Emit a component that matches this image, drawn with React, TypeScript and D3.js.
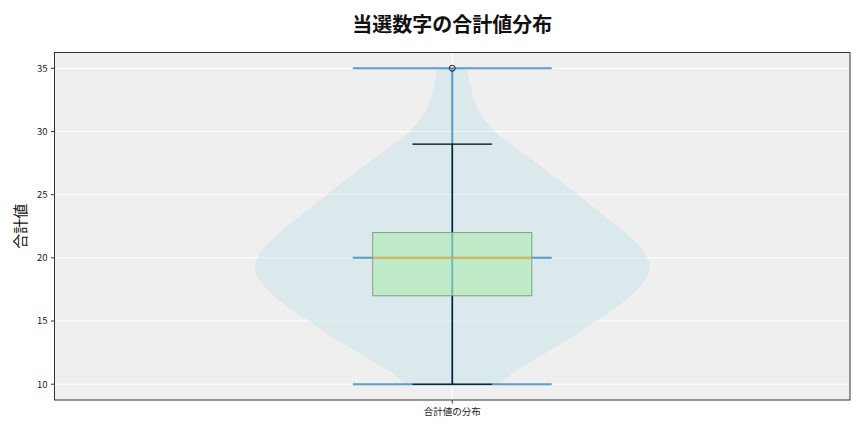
import React from "react";
import * as d3 from "d3";

const title = "当選数字の合計値分布";
const yLabel = "合計値";
const category = "合計値の分布";

// violin: relative density for each sum value
const densityValues = d3.range(10, 36);
const densities = [
    0.23, 0.31, 0.42, 0.53, 0.63, 0.72, 0.82, 0.9, 0.96, 1.0, 0.985, 0.94,
    0.87, 0.79, 0.71, 0.63, 0.55, 0.47, 0.38, 0.29, 0.21, 0.155, 0.12, 0.1,
    0.085, 0.075,
];
const extrema = [10, 20, 35]; // min, median, max lines of the violin

// boxplot stats
const whiskerLow = 10;
const q1 = 17;
const median = 20;
const q3 = 22;
const whiskerHigh = 29;
const outliers = [35];

const yTicks = [10, 15, 20, 25, 30, 35];

const width = 864;
const height = 432;
const margin = { top: 52.5, right: 14, bottom: 32, left: 54.5 };

export default function App() {
    const x = d3
        .scaleLinear()
        .domain([0.5, 1.5])
        .range([margin.left, width - margin.right]);
    const y = d3
        .scaleLinear()
        .domain([8.75, 36.25])
        .range([height - margin.bottom, margin.top]);

    const pos = 1;
    const violinWidth = 0.5;
    const boxWidth = 0.2;
    const maxD = d3.max(densities) as number;
    const half = (d: number) => (d / maxD) * (violinWidth / 2);

    const pts = densityValues.map((v, i) => ({ v, d: densities[i] }));
    const area = d3
        .area<any>()
        .y((p) => y(p.v))
        .x0((p) => x(pos - half(p.d)))
        .x1((p) => x(pos + half(p.d)))
        .curve(d3.curveBasis);

    const plotL = x.range()[0];
    const plotR = x.range()[1];
    const plotT = y.range()[1];
    const plotB = y.range()[0];
    const font = "'Noto Sans CJK JP', 'Noto Sans', sans-serif";

    return (
        <svg
            width={width}
            height={height}
            style={{ position: "absolute", left: 0, top: 0, background: "#fff" }}
            fontFamily={font}
        >
            <rect
                x={plotL}
                y={plotT}
                width={plotR - plotL}
                height={plotB - plotT}
                fill="#efefef"
            />
            {/* grid */}
            {yTicks.map((t) => (
                <line
                    key={t}
                    x1={plotL}
                    x2={plotR}
                    y1={y(t)}
                    y2={y(t)}
                    stroke="#fff"
                    strokeWidth={1}
                />
            ))}
            <line x1={x(pos)} x2={x(pos)} y1={plotT} y2={plotB} stroke="#fff" />

            {/* violin */}
            <path d={area(pts) as string} fill="#add8e6" fillOpacity={0.3} />
            {extrema.map((v) => (
                <line
                    key={v}
                    x1={x(pos - violinWidth / 4)}
                    x2={x(pos + violinWidth / 4)}
                    y1={y(v)}
                    y2={y(v)}
                    stroke="#1f77b4"
                    strokeOpacity={0.7}
                    strokeWidth={2}
                />
            ))}
            <line
                x1={x(pos)}
                x2={x(pos)}
                y1={y(extrema[0])}
                y2={y(extrema[2])}
                stroke="#1f77b4"
                strokeOpacity={0.7}
                strokeWidth={2}
            />

            {/* boxplot */}
            <line x1={x(pos)} x2={x(pos)} y1={y(whiskerLow)} y2={y(q1)} stroke="#000" strokeWidth={1.1} />
            <line x1={x(pos)} x2={x(pos)} y1={y(q3)} y2={y(whiskerHigh)} stroke="#000" strokeWidth={1.1} />
            {[whiskerLow, whiskerHigh].map((v) => (
                <line
                    key={v}
                    x1={x(pos - boxWidth / 4)}
                    x2={x(pos + boxWidth / 4)}
                    y1={y(v)}
                    y2={y(v)}
                    stroke="#000"
                    strokeWidth={1.1}
                />
            ))}
            <rect
                x={x(pos - boxWidth / 2)}
                y={y(q3)}
                width={x(pos + boxWidth / 2) - x(pos - boxWidth / 2)}
                height={y(q1) - y(q3)}
                fill="#90ee90"
                fillOpacity={0.38}
                stroke="#6f8f78"
                strokeOpacity={0.8}
                strokeWidth={1}
            />
            <line
                x1={x(pos - boxWidth / 2)}
                x2={x(pos + boxWidth / 2)}
                y1={y(median)}
                y2={y(median)}
                stroke="#f5ab3c"
                strokeWidth={1.5}
            />
            {outliers.map((v) => (
                <circle
                    key={v}
                    cx={x(pos)}
                    cy={y(v)}
                    r={3}
                    fill="none"
                    stroke="#222"
                    strokeWidth={1}
                />
            ))}

            {/* frame */}
            <rect
                x={plotL}
                y={plotT}
                width={plotR - plotL}
                height={plotB - plotT}
                fill="none"
                stroke="#333"
                strokeWidth={1}
            />

            {/* y axis */}
            {yTicks.map((t) => (
                <g key={t} transform={`translate(${plotL},${y(t)})`}>
                    <line x1={-3.5} x2={0} stroke="#333" />
                    <text x={-7} dy="0.35em" textAnchor="end" fontSize={9.5} fill="#222">
                        {t}
                    </text>
                </g>
            ))}
            {/* x axis */}
            <line x1={x(pos)} x2={x(pos)} y1={plotB} y2={plotB + 3.5} stroke="#333" />
            <text x={x(pos)} y={plotB + 15} textAnchor="middle" fontSize={9.5} fill="#222">
                {category}
            </text>

            <text
                transform={`translate(21,${(plotT + plotB) / 2}) rotate(-90)`}
                textAnchor="middle"
                dy="0.35em"
                fontSize={15}
                fill="#111"
            >
                {yLabel}
            </text>
            <text
                x={(plotL + plotR) / 2}
                y={32}
                textAnchor="middle"
                fontSize={20}
                fontWeight="bold"
                fill="#111"
            >
                {title}
            </text>
        </svg>
    );
}
